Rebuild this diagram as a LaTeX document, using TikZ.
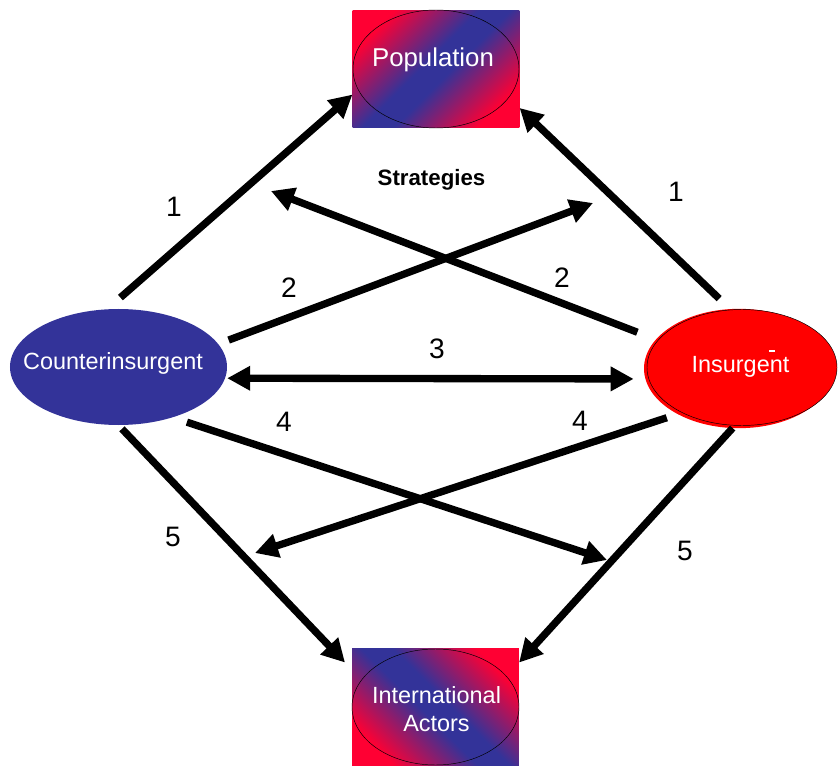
\documentclass[tikz,border=0pt]{standalone}
\usepackage{fontspec}
\setmainfont{Liberation Sans}
\usetikzlibrary{arrows.meta, shapes.geometric}
\definecolor{ciblue}{RGB}{51,51,153}
\definecolor{insred}{RGB}{255,0,0}
\definecolor{popred}{RGB}{255,0,51}
\pgfdeclareverticalshading{popband}{100bp}{color(0bp)=(popred); color(25bp)=(popred); color(46bp)=(ciblue); color(54bp)=(ciblue); color(75bp)=(popred); color(100bp)=(popred)}

\begin{document}
\begin{tikzpicture}[x=0.03cm, y=-0.03cm,
        actor/.style={ellipse, inner sep=0pt, minimum height=3.48cm},
        target/.style={rectangle, inner sep=0pt, minimum width=5.0cm, minimum height=3.52cm, shading=popband},
        nametext/.style={text=white, align=center, font=\fontsize{20}{24}\selectfont},
        strategy_link/.style={-{Triangle[length=0.69cm, width=0.7cm]}, line width=0.22cm, black},
        mutual_link/.style={{Triangle[length=0.69cm, width=0.7cm]}-{Triangle[length=0.69cm, width=0.7cm]}, line width=0.22cm, black},
        num/.style={font=\fontsize{24}{28}\selectfont}
    ]
    \useasboundingbox (0,0) rectangle (839,766);

    % the two players
    \node[actor, fill=ciblue, minimum width=6.51cm] (ci) at (118.5, 367) {};
    \node[actor, fill=insred, minimum width=5.7cm, minimum height=3.58cm] (insshade) at (739, 368.5) {};
    \node[actor, fill=insred, draw=black, thin, minimum width=5.7cm] (ins) at (742, 367.5) {};
    \node[nametext] (citext) at (113, 363.5) {Counterinsurgent};
    \node[nametext] (instext) at (740.5, 366.5) {Insurgent};
    \node[fill=white, inner sep=0pt, minimum width=0.2cm, minimum height=0.07cm] (insdash) at (772, 351) {};

    % the two targets
    \node[target, shading angle=45] (pop) at (436, 69) {};
    \draw[thin] (pop.center) ellipse [x radius=83, y radius=59];
    \node[nametext, font=\fontsize{22}{26}\selectfont] (poptext) at (433, 59.5) {Population};
    \node[target, shading angle=-45] (intl) at (435.5, 707) {};
    \draw[thin] (intl.center) ellipse [x radius=83.5, y radius=58];
    \node[nametext] (intltext) at (436.5, 709) {International\\Actors};

    \node[font=\bfseries\fontsize{19}{23}\selectfont] (strat) at (431.5, 179.5) {Strategies};

    % free arrow ends
    \coordinate (ci2tip) at (593, 203);
    \coordinate (ins2tip) at (271, 191);
    \coordinate (ci4tip) at (607, 560);
    \coordinate (ins4tip) at (255, 553);

    \draw[strategy_link, shorten <=0.525cm] (ci.101) -- (pop.197);
    \draw[strategy_link, shorten <=0.48cm] (ins.101) -- (pop.335);
    \draw[strategy_link, shorten <=0.33cm] (ci.13) -- (ci2tip);
    \draw[strategy_link, shorten <=0.66cm] (ins.162) -- (ins2tip);
    \draw[mutual_link, shorten <=0.06cm, shorten >=0.45cm] (ci.354) -- (ins.187);
    \draw[strategy_link, shorten <=0.45cm] (ci.317) -- (ci4tip);
    \draw[strategy_link, shorten <=0.48cm] (ins.217) -- (ins4tip);
    \draw[strategy_link, shorten <=0.15cm, shorten >=0.3cm] (ci.south) -- (intl.156);
    \draw[strategy_link, shorten <=0.1cm] (ins.263) -- (intl.28);

    \node[num] (n1a) at (174, 207) {1};
    \node[num] (n1b) at (676, 192) {1};
    \node[num] (n2a) at (289, 288) {2};
    \node[num] (n2b) at (562, 278) {2};
    \node[num] (n3) at (437, 349) {3};
    \node[num] (n4a) at (284, 422) {4};
    \node[num] (n4b) at (580, 421) {4};
    \node[num] (n5a) at (173, 537) {5};
    \node[num] (n5b) at (685, 551) {5};
\end{tikzpicture}
\end{document}
